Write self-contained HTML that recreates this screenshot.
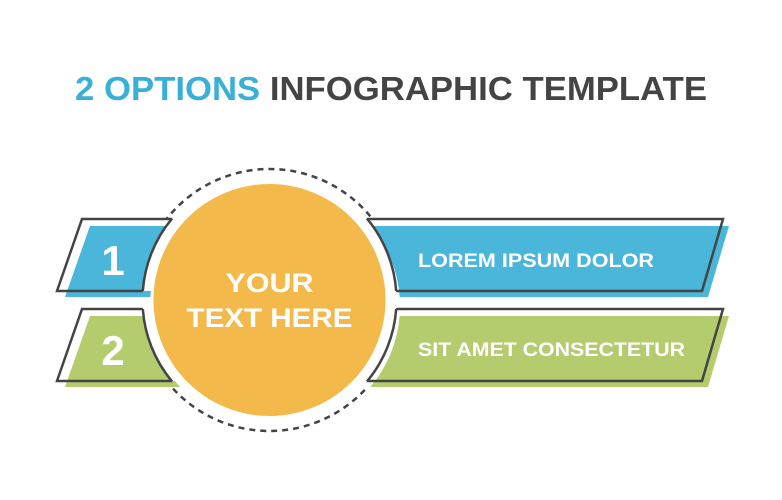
<!DOCTYPE html>
<html><head><meta charset="utf-8"><style>html,body{margin:0;padding:0;background:#fff}svg{display:block}</style></head>
<body>
<svg width="782" height="500" viewBox="0 0 782 500" xmlns="http://www.w3.org/2000/svg" font-family="Liberation Sans, sans-serif" font-weight="bold">
<defs>
  <mask id="fillmask"><rect width="782" height="500" fill="#fff"/><circle cx="275" cy="306" r="125" fill="#000"/></mask>
  <mask id="olmask"><rect width="782" height="500" fill="#fff"/><circle cx="269.5" cy="300" r="127" fill="#000"/></mask>
  <mask id="dashmask"><rect width="782" height="500" fill="#fff"/>
    <rect x="0" y="219" width="782" height="168" fill="#000"/>
  </mask>
  <clipPath id="cp1"><polygon points="82,219 723,219 702,291 57,291"/></clipPath>
  <clipPath id="cp2"><polygon points="82,309 723,309 702,381 57,381"/></clipPath>
</defs>
<text x="391" y="100" text-anchor="middle" font-size="33" textLength="632" lengthAdjust="spacingAndGlyphs"><tspan fill="#3ab0d6">2 OPTIONS</tspan><tspan fill="#444"> INFOGRAPHIC TEMPLATE</tspan></text>

<circle cx="269.5" cy="300" r="131" fill="none" stroke="#444" stroke-width="2.5" stroke-dasharray="6,5" mask="url(#dashmask)"/>

<g mask="url(#fillmask)">
  <polygon points="90,226 729,226 708,297 65,297" fill="#4ab6d9"/>
  <polygon points="90,316 729,316 708,387 65,387" fill="#b5cc6e"/>
</g>
<g mask="url(#olmask)" fill="none" stroke="#444" stroke-width="2.5">
  <polygon points="82,219 723,219 702,291 57,291"/>
  <polygon points="82,309 723,309 702,381 57,381"/>
</g>
<circle cx="269.5" cy="300" r="127" fill="#fff" stroke="#444" stroke-width="2.5" clip-path="url(#cp1)"/>
<circle cx="269.5" cy="300" r="127" fill="#fff" stroke="#444" stroke-width="2.5" clip-path="url(#cp2)"/>
<circle cx="269.5" cy="300" r="116" fill="#f3b94b"/>

<g fill="#fff">
  <text x="113" y="275" text-anchor="middle" font-size="42">1</text>
  <text x="113" y="365" text-anchor="middle" font-size="42">2</text>
  <text x="269.5" y="292" text-anchor="middle" font-size="27" textLength="88" lengthAdjust="spacingAndGlyphs">YOUR</text>
  <text x="269.5" y="327" text-anchor="middle" font-size="27" textLength="166" lengthAdjust="spacingAndGlyphs">TEXT HERE</text>
  <text x="418" y="267" font-size="19" textLength="236" lengthAdjust="spacingAndGlyphs">LOREM IPSUM DOLOR</text>
  <text x="418" y="356" font-size="19" textLength="267" lengthAdjust="spacingAndGlyphs">SIT AMET CONSECTETUR</text>
</g>
</svg>
</body></html>
